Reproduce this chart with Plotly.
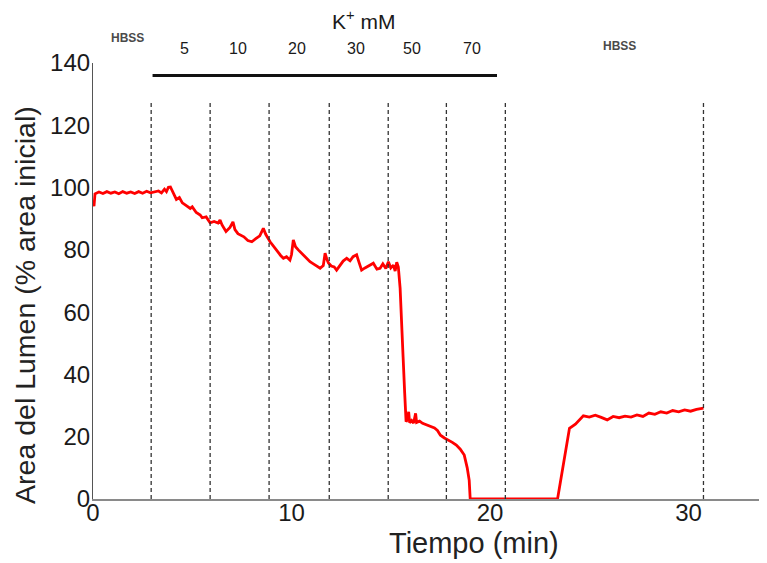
import plotly.graph_objects as go

# --- data ---
tiempo = [0.0, 0.05, 0.1, 0.3, 0.5, 0.7, 0.9, 1.1, 1.3, 1.5, 1.7, 1.9, 2.1, 2.3, 2.5, 2.7, 2.9,
          3.1, 3.3, 3.45, 3.6, 3.7, 3.8, 3.9, 4.0,
          4.1, 4.2, 4.35, 4.5, 4.7, 4.9, 5.0, 5.2, 5.4, 5.5, 5.7, 5.9, 6.1, 6.3, 6.4, 6.5,
          6.7, 6.9, 7.05, 7.15, 7.3, 7.45, 7.6, 7.8, 8.0, 8.2, 8.4, 8.58, 8.7, 8.92, 9.1,
          9.3, 9.45, 9.59, 9.75, 9.92, 10.0, 10.09, 10.2, 10.34, 10.5, 10.7, 10.93, 11.1,
          11.3, 11.44, 11.6, 11.69, 11.78, 11.86, 12.0, 12.15, 12.27, 12.45, 12.6, 12.78,
          12.95, 13.1, 13.28, 13.4, 13.53, 13.7, 13.9, 14.12, 14.3, 14.46, 14.6, 14.75,
          14.88, 15.0, 15.13, 15.22, 15.3, 15.38, 15.47, 15.55, 15.62, 15.7, 15.77, 15.85,
          15.9, 15.95, 16.05, 16.15, 16.25, 16.3, 16.45, 16.6, 16.8, 17.0, 17.2, 17.35,
          17.5, 17.7, 17.9, 18.1, 18.3, 18.5, 18.7, 18.85, 18.95, 19.0, 23.4, 23.7, 24.0,
          24.3, 24.7, 25.0, 25.3, 25.6, 25.9, 26.2, 26.5, 26.8, 27.1, 27.4, 27.7, 28.0,
          28.3, 28.6, 28.9, 29.2, 29.5, 29.8, 30.1, 30.4, 30.75]
area = [95.5, 94.0, 98.0, 98.6, 98.1, 98.7, 98.2, 98.6, 98.0, 98.7, 98.2, 98.6, 98.1, 98.7, 98.2, 98.8, 98.3,
        98.5, 98.9, 98.3, 99.5, 98.7, 100.1, 100.2, 99.0,
        97.5, 96.2, 96.8, 95.1, 94.2, 93.3, 93.8, 92.0, 91.2, 90.3, 90.6, 88.7, 89.1, 88.6, 89.6, 88.0,
        85.9, 87.2, 89.0, 86.5, 85.2, 84.6, 84.2, 83.0, 82.6, 83.6, 84.5, 86.9, 85.0, 82.6, 81.0,
        79.6, 78.2, 77.3, 77.8, 76.7, 78.5, 83.2, 81.0, 80.0, 79.0, 77.5, 76.2, 75.5,
        74.8, 74.1, 75.0, 78.9, 77.0, 75.8, 74.8, 74.5, 73.5, 75.2, 76.4, 77.3,
        76.5, 77.8, 78.4, 76.0, 73.5, 74.2, 74.8, 75.7, 73.8, 74.1, 75.5, 74.0,
        76.2, 74.2, 75.1, 73.2, 76.0, 74.5, 67.7, 58.0, 45.6, 34.0, 24.8, 25.5,
        28.0, 24.5, 25.2, 24.4, 27.5, 24.6, 25.0, 24.3, 23.8, 23.5, 22.8, 22.0,
        20.5, 19.6, 19.0, 18.2, 17.3, 16.0, 14.1, 10.0, 6.0, 0.0, 0.0, 12.0, 22.7,
        24.0, 26.7, 26.3, 26.9, 26.2, 25.4, 26.5, 26.1, 26.6, 26.3, 27.0, 26.5, 27.6,
        27.2, 28.0, 27.6, 28.4, 28.0, 28.6, 28.2, 28.8, 29.2]

cambios = [2.93, 5.9, 8.87, 11.9, 14.87, 17.8, 20.77, 30.75]   # solution change times (min)
k_labels = ["5", "10", "20", "30", "50", "70"]
k_label_x = [4.63, 7.28, 10.28, 13.25, 16.07, 19.09]
k_bar = [3.0, 20.35]
x_ticks = [0, 10, 20, 30]
y_ticks = [0, 20, 40, 60, 80, 100, 120, 140]

FONT = "Arial, Liberation Sans, sans-serif"

fig = go.Figure()
fig.add_trace(go.Scatter(x=tiempo, y=area, mode="lines",
                         line=dict(color="#ff0000", width=2.8), showlegend=False))

for c in cambios:
    fig.add_shape(type="line", xref="x", yref="y", x0=c, x1=c, y0=0, y1=128,
                  line=dict(color="#333333", width=1.3, dash="4px,3px"))

fig.add_shape(type="line", xref="x", yref="y", x0=k_bar[0], x1=k_bar[1], y0=136, y1=136,
              line=dict(color="#111111", width=3))


def note(x, y, text, size, color="#1a1a1a", xref="x", angle=0):
    fig.add_annotation(x=x, y=y, xref=xref, yref="paper", text=text, showarrow=False,
                       xanchor="center", yanchor="middle", textangle=angle,
                       font=dict(family=FONT, size=size, color=color))


for lab, xx in zip(k_labels, k_label_x):
    note(xx, 1.034, lab, 16)

note(13.6, 1.099, "K<sup>+</sup> mM", 21)
note(1.74, 1.057, "<b>HBSS</b>", 12, color="#4a4a4a")
note(26.5, 1.039, "<b>HBSS</b>", 12, color="#4a4a4a")
note(19.17, -0.101, "Tiempo (min)", 29, color="#222222")
note(-0.101, 0.445, "Area del Lumen (% area inicial)", 28.5, color="#222222",
     xref="paper", angle=-90)

# page body adds an 8px offset: compensate in size and margins
fig.update_layout(
    width=759, height=555,
    margin=dict(l=85, r=0, t=55, b=64),
    paper_bgcolor="white", plot_bgcolor="white",
    xaxis=dict(range=[0, 33.95], tickvals=x_ticks, showgrid=False, zeroline=False,
               showline=True, linecolor="#8a8a8a", linewidth=1.5, ticks="",
               ticklabelstandoff=-9,
               tickfont=dict(family=FONT, size=24, color="#1a1a1a")),
    yaxis=dict(range=[0, 140], tickvals=y_ticks, showgrid=False, zeroline=False,
               showline=True, linecolor="#555555", linewidth=1.2, ticks="",
               ticklabelstandoff=-3,
               tickfont=dict(family=FONT, size=24, color="#1a1a1a")),
)

fig.write_html("out.html")
